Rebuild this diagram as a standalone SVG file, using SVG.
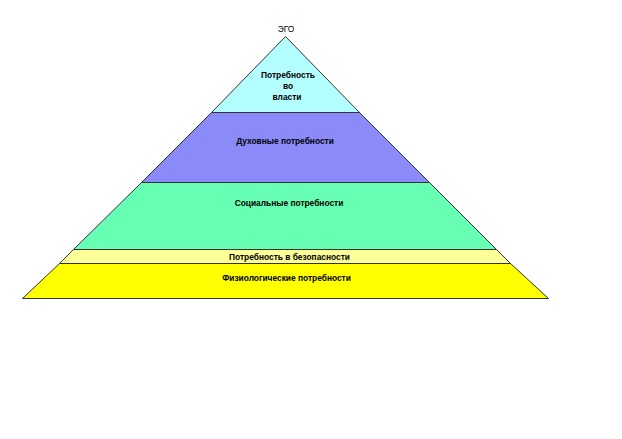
<svg xmlns="http://www.w3.org/2000/svg" width="622" height="439" viewBox="0 0 622 439">
<style>
.lyr{stroke:#333;stroke-width:1}
.t{font-family:"Liberation Sans",Arial,sans-serif;font-size:8.4px;font-weight:bold;fill:#000;text-anchor:middle}
</style>
<rect width="622" height="439" fill="#fff"/>
<g id="power">
<polygon class="lyr" points="285.5,36.5 359.5,112.5 211.5,112.5" fill="#b3ffff"/>
<text class="t" x="288" y="78">Потребность</text>
<text class="t" x="288" y="89">во</text>
<text class="t" x="287" y="100">власти</text>
</g>
<g id="spiritual">
<polygon class="lyr" points="211.5,112.5 359.5,112.5 429.5,182.5 141.5,182.5" fill="#8a8af8"/>
<text class="t" x="285" y="144">Духовные потребности</text>
</g>
<g id="social">
<polygon class="lyr" points="141.5,182.5 429.5,182.5 496.5,249.5 73.5,249.5" fill="#66ffb3"/>
<text class="t" x="289" y="206">Социальные потребности</text>
</g>
<g id="safety">
<polygon class="lyr" points="73.5,249.5 496.5,249.5 510.5,263.5 59.5,263.5" fill="#ffff99"/>
<text class="t" x="289.5" y="260">Потребность в безопасности</text>
</g>
<g id="physio">
<polygon class="lyr" points="59.5,263.5 510.5,263.5 548.5,298.5 22.5,298.5" fill="#ffff00"/>
<text class="t" x="286.5" y="281">Физиологические потребности</text>
</g>
<g id="ego">
<text class="t" x="286" y="32" style="font-weight:normal">ЭГО</text>
</g>
<g id="connectors"></g>
</svg>
